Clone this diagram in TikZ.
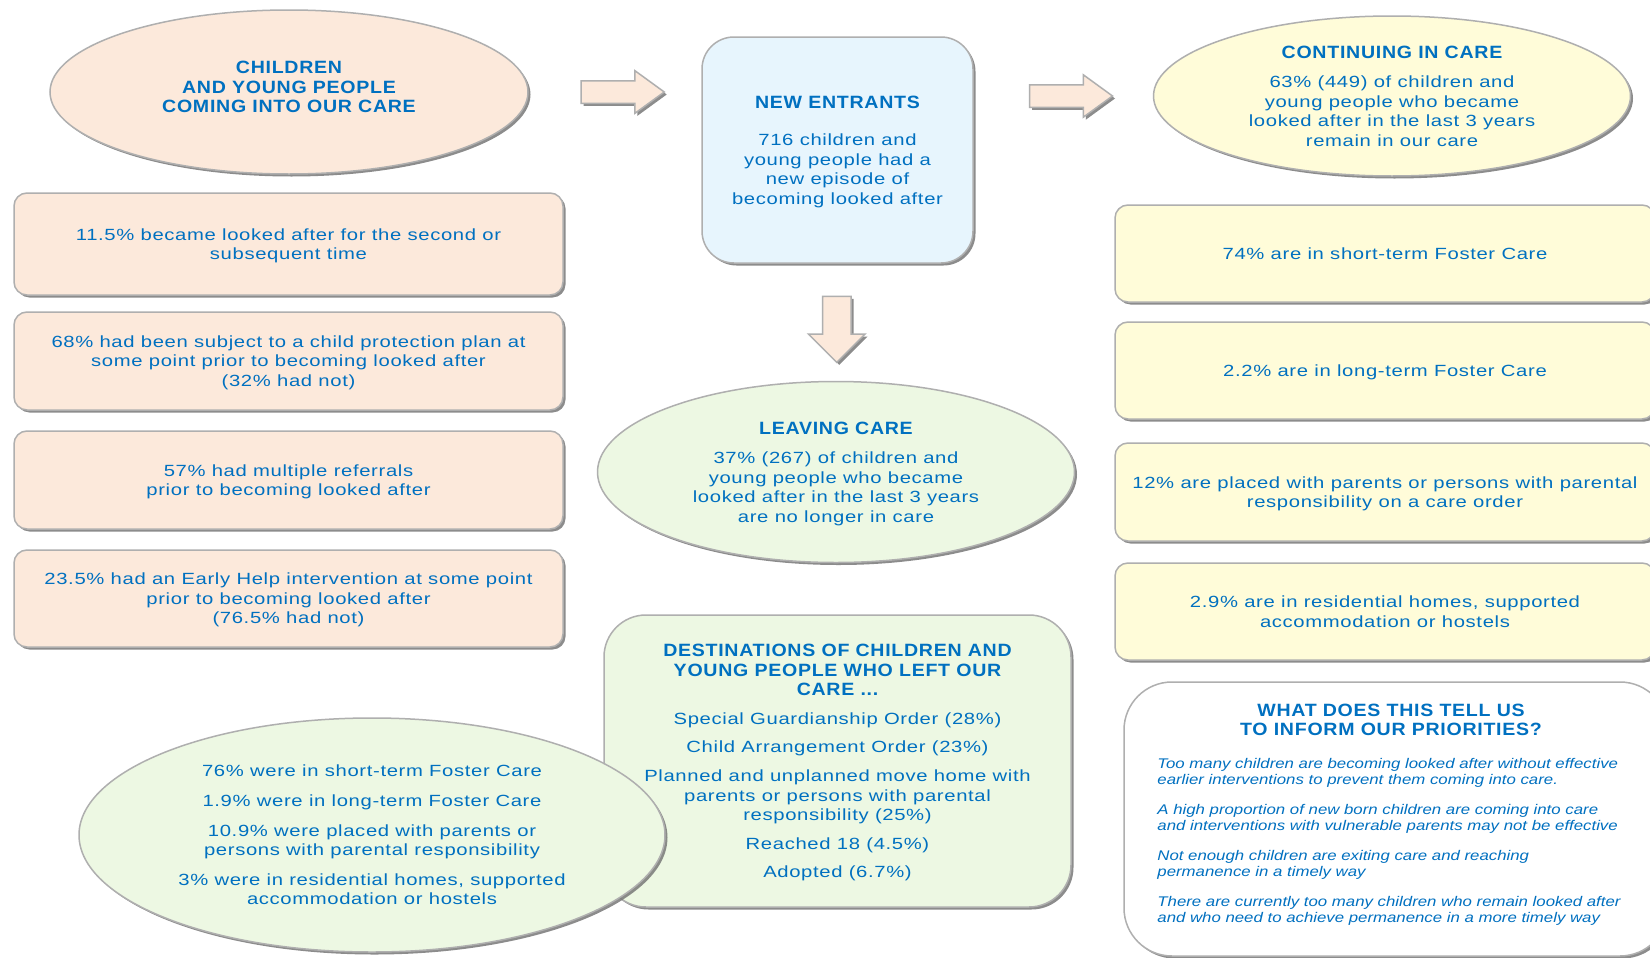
\documentclass[tikz,border=0pt]{standalone}
\usepackage{fontspec}
\setmainfont{Liberation Sans}
\newfontfamily\bodyfont{Liberation Sans}[FakeStretch=1.25,LetterSpace=4]
\newfontfamily\headfont{Liberation Sans}[FakeStretch=1.1,LetterSpace=4]
\newfontfamily\notefont{Liberation Sans}[FakeStretch=1.2]
\usetikzlibrary{shapes.geometric,shapes.arrows,shadows,calc}

\newlength{\du}
\setlength{\du}{0.5pt}

\definecolor{careblue}{RGB}{0,112,192}
\definecolor{peachfill}{RGB}{252,233,219}
\definecolor{skyfill}{RGB}{231,245,253}
\definecolor{lemonfill}{RGB}{255,252,217}
\definecolor{mintfill}{RGB}{237,248,227}
\definecolor{bevelgray}{RGB}{175,175,175}
\definecolor{shadegray}{RGB}{120,120,120}

\newcommand{\hdtxt}{\headfont\bfseries\fontsize{8.9}{9.75}\selectfont}
\newcommand{\bdtxt}{\bodyfont\fontsize{8.1}{9.8}\selectfont}
\newcommand{\nttxt}{\notefont\itshape\fontsize{7}{8}\selectfont}

\tikzset{
  bevel/.style={drop shadow={shadow xshift=2.5\du, shadow yshift=-2.5\du, fill=shadegray, opacity=0.85}},
  oval/.style={ellipse, bevel, draw=bevelgray, line width=1.5\du, text=careblue,
    align=center, inner sep=0pt, text depth=0pt, font=\bdtxt},
  card/.style={rectangle, bevel, rounded corners=13\du, draw=bevelgray, line width=1.5\du,
    text=careblue, align=center, inner sep=0pt, text depth=0pt, font=\bdtxt},
  flow/.style={single arrow, bevel, draw=bevelgray, line width=1.5\du, fill=peachfill,
    inner xsep=0pt, inner ysep=10.5\du, single arrow head extend=10\du,
    single arrow tip angle=72, minimum height=83\du},
  headline/.style={text=careblue, align=center, inner sep=0pt, font=\hdtxt},
  notes/.style={text=careblue, align=left, inner sep=0pt, font=\nttxt}
}

\begin{document}
\begin{tikzpicture}
\pgftransformyscale{-1.000000}
\useasboundingbox[fill=white] (0,0) rectangle (1650\du,958\du);
\clip (0,0) rectangle (1650\du,958\du);

% coming into care
\node[oval, fill=peachfill, minimum width=478\du, minimum height=164\du] (intake) at (289\du,92\du) {};
\node[headline] (intaketitle) at (289\du,87\du) {CHILDREN\\AND YOUNG PEOPLE\\COMING INTO OUR CARE};
\node[card, fill=peachfill, minimum width=549\du, minimum height=102\du] (second) at (288.5\du,244\du)
  {11.5\% became looked after for the second or\\subsequent time};
\node[card, fill=peachfill, minimum width=549\du, minimum height=98\du] (plan) at (288.5\du,361\du)
  {68\% had been subject to a child protection plan at\\some point prior to becoming looked after\\(32\% had not)};
\node[card, fill=peachfill, minimum width=549\du, minimum height=98\du] (referrals) at (288.5\du,480\du)
  {57\% had multiple referrals\\prior to becoming looked after};
\node[card, fill=peachfill, minimum width=549\du, minimum height=97\du] (earlyhelp) at (288.5\du,598.5\du)
  {23.5\% had an Early Help intervention at some point\\prior to becoming looked after\\(76.5\% had not)};

% new entrants and leaving care
\node[card, fill=skyfill, rounded corners=32\du, minimum width=271\du, minimum height=226\du] (entrants) at (837.5\du,150\du)
  {\hdtxt NEW ENTRANTS\\[9pt]\bdtxt 716 children and\\young people had a\\new episode of\\becoming looked after};
\node[oval, fill=mintfill, minimum width=477\du, minimum height=181\du] (leaving) at (836\du,472\du)
  {\hdtxt LEAVING CARE\\[5pt]\bdtxt 37\% (267) of children and\\young people who became\\looked after in the last 3 years\\are no longer in care};
\node[card, fill=mintfill, rounded corners=42\du, minimum width=467\du, minimum height=292\du] (destinations) at (837.5\du,761\du)
  {\hdtxt DESTINATIONS OF CHILDREN AND\\\hdtxt YOUNG PEOPLE WHO LEFT OUR\\\hdtxt CARE ...\\[4.5pt]
   \bdtxt Special Guardianship Order (28\%)\\[4.5pt]Child Arrangement Order (23\%)\\[4.5pt]
   Planned and unplanned move home with\\parents or persons with parental\\responsibility (25\%)\\[4.5pt]
   Reached 18 (4.5\%)\\[4.5pt]Adopted (6.7\%)};
\node[oval, fill=mintfill, minimum width=586\du, minimum height=234\du] (placements) at (372\du,835\du)
  {76\% were in short-term Foster Care\\[5pt]1.9\% were in long-term Foster Care\\[5pt]
   10.9\% were placed with parents or\\persons with parental responsibility\\[5pt]
   3\% were in residential homes, supported\\accommodation or hostels};

% continuing in care
\node[oval, fill=lemonfill, minimum width=477\du, minimum height=160\du] (continuing) at (1392\du,96\du)
  {\hdtxt CONTINUING IN CARE\\[5pt]\bdtxt 63\% (449) of children and\\young people who became\\looked after in the last 3 years\\remain in our care};
\node[card, fill=lemonfill, minimum width=540\du, minimum height=97\du] (shortterm) at (1385\du,253.5\du)
  {74\% are in short-term Foster Care};
\node[card, fill=lemonfill, minimum width=540\du, minimum height=97\du] (longterm) at (1385\du,370.5\du)
  {2.2\% are in long-term Foster Care};
\node[card, fill=lemonfill, minimum width=540\du, minimum height=98\du] (withparents) at (1385\du,492\du)
  {12\% are placed with parents or persons with parental\\responsibility on a care order};
\node[card, fill=lemonfill, minimum width=540\du, minimum height=97\du] (residential) at (1385\du,611.5\du)
  {2.9\% are in residential homes, supported\\accommodation or hostels};

% priorities
\node[card, fill=white, rounded corners=48\du, minimum width=544\du, minimum height=274\du] (priorities) at (1396\du,819\du) {};
\node[headline] (prioritiestitle) at (1391\du,720\du) {WHAT DOES THIS TELL US\\TO INFORM OUR PRIORITIES?};
\node[notes, anchor=north west] (prioritiesnotes) at (1157\du,758\du)
  {Too many children are becoming looked after without effective\\earlier interventions to prevent them coming into care.\\[7pt]
   A high proportion of new born children are coming into care\\and interventions with vulnerable parents may not be effective\\[7pt]
   Not enough children are exiting care and reaching\\permanence in a timely way\\[7pt]
   There are currently too many children who remain looked after\\and who need to achieve permanence in a more timely way};

% block arrows
\node[flow] (arrowin) at ($(intake.east)!0.5!(entrants.west |- intake.east)$) {};
\node[flow] (arrowon) at ($(entrants.east |- continuing.west)!0.5!(continuing.west)$) {};
\node[flow, shape border rotate=270, inner xsep=13.5\du, inner ysep=0pt, single arrow head extend=14\du,
  single arrow tip angle=90, minimum height=66\du] (arrowout) at ($(entrants.south)!0.5!(leaving.north)$) {};
\end{tikzpicture}
\end{document}
